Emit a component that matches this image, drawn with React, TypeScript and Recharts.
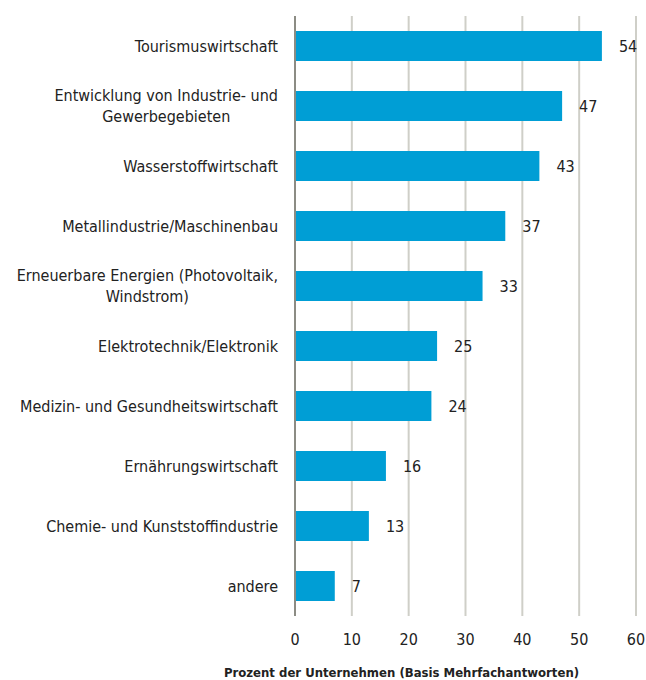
import { BarChart, Bar, XAxis, YAxis, CartesianGrid, LabelList } from 'recharts';

const categories = [
  'Tourismuswirtschaft',
  'Entwicklung von Industrie- und\nGewerbegebieten',
  'Wasserstoffwirtschaft',
  'Metallindustrie/Maschinenbau',
  'Erneuerbare Energien (Photovoltaik,\nWindstrom)',
  'Elektrotechnik/Elektronik',
  'Medizin- und Gesundheitswirtschaft',
  'Ernährungswirtschaft',
  'Chemie- und Kunststoffindustrie',
  'andere',
];
const shares = [54, 47, 43, 37, 33, 25, 24, 16, 13, 7];
const xTicks = [0, 10, 20, 30, 40, 50, 60];
const axisTitle = 'Prozent der Unternehmen (Basis Mehrfachantworten)';

const FONT = "'Liberation Sans Narrow', 'DejaVu Sans Condensed', sans-serif";
const TEXT = '#222';
const BLUE = '#009ed5';

const data = categories.map((name, i) => ({ name, value: shares[i] }));

let ctx: CanvasRenderingContext2D | null = null;
function textWidth(s: string, size: number) {
  if (!ctx) ctx = document.createElement('canvas').getContext('2d');
  if (!ctx) return s.length * size * 0.45;
  ctx.font = `${size}px ${FONT}`;
  return ctx.measureText(s).width;
}

function renderCategoryTick(props: any) {
  const { x, y, payload } = props;
  const lines = String(payload.value).split('\n');
  const size = 16;
  const right = x - 17;
  if (lines.length === 1) {
    return (
      <text x={right} y={y} dy="0.35em" textAnchor="end" fontSize={size} fontFamily={FONT} fill={TEXT}>
        {lines[0]}
      </text>
    );
  }
  // block is right-aligned, lines centred inside it
  const w = Math.max(...lines.map(l => textWidth(l, size)));
  const cx = right - w / 2;
  const lh = 21;
  const top = y - ((lines.length - 1) * lh) / 2;
  return (
    <text textAnchor="middle" fontSize={size} fontFamily={FONT} fill={TEXT}>
      {lines.map((l, i) => (
        <tspan key={i} x={cx} y={top + i * lh} dy="0.35em">{l}</tspan>
      ))}
    </text>
  );
}

function renderValueTick(props: any) {
  const { x, y, payload } = props;
  return (
    <text x={x} y={y} dy={29} textAnchor="middle" fontSize={16} fontFamily={FONT} fill={TEXT}>
      {payload.value}
    </text>
  );
}

export default function App() {
  return (
    <div style={{ width: 646, height: 680 }}>
      {/* drop the default body margin so the chart fills the page */}
      <style>{'body { margin: 0; }'}</style>
      <BarChart
        width={646}
        height={680}
        data={data}
        layout="vertical"
        margin={{ top: 16, right: 10, left: 0, bottom: 0 }}
        barSize={30}
      >
        <CartesianGrid horizontal={false} stroke="#cfcfc8" strokeWidth={2} />
        <XAxis
          type="number"
          ticks={xTicks}
          tickCount={7}
          axisLine={false}
          tickLine={false}
          tickSize={0}
          tickMargin={0}
          tick={renderValueTick}
          height={64}
          label={{
            value: axisTitle,
            position: 'insideBottom',
            offset: 0,
            dx: -64,
            dy: -3,
            style: { fontSize: 13, fontWeight: 'bold', fontFamily: FONT, fill: TEXT },
          }}
        />
        <YAxis
          type="category"
          dataKey="name"
          width={295}
          axisLine={{ stroke: '#8c8c84', strokeWidth: 2 }}
          tickLine={false}
          tickSize={0}
          tickMargin={0}
          tick={renderCategoryTick}
          interval={0}
        />
        <Bar dataKey="value" fill={BLUE} isAnimationActive={false}>
          <LabelList
            dataKey="value"
            position="right"
            offset={17}
            style={{ fontSize: 16, fontFamily: FONT, fill: TEXT }}
          />
        </Bar>
      </BarChart>
    </div>
  );
}
